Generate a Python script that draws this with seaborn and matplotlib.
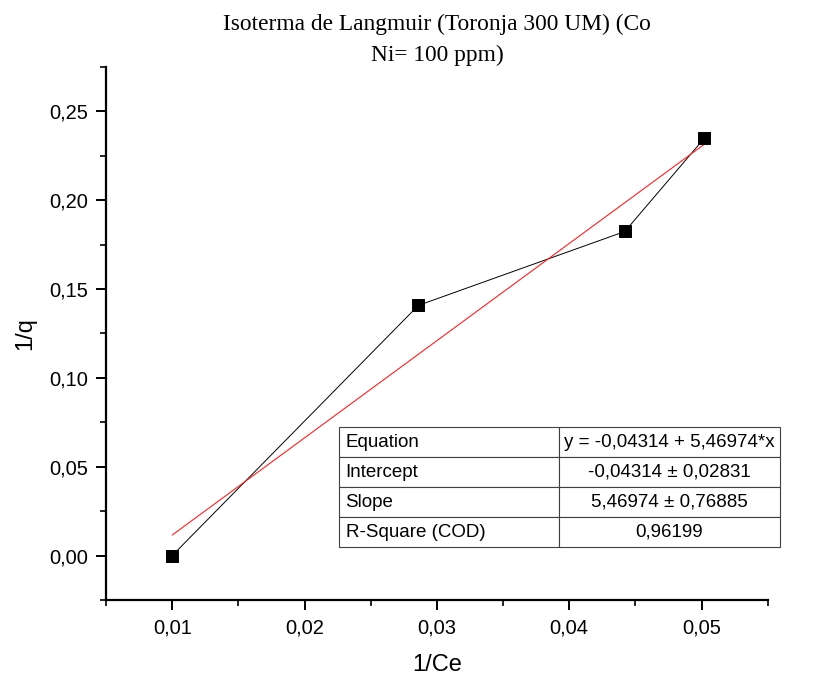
import matplotlib.pyplot as plt
import numpy as np
import pandas as pd
import seaborn as sns
from matplotlib.ticker import FuncFormatter, MultipleLocator

# dados
inv_ce = [0.0100, 0.0286, 0.0442, 0.0502]
inv_q = [0.0000, 0.1408, 0.1824, 0.2348]

# resultado do ajuste linear (tabela do Origin)
intercepto = -0.04314
inclinacao = 5.46974
tabela_rotulos = ["Equation", "Intercept", "Slope", "R-Square (COD)"]
tabela_valores = [
    "y = -0,04314 + 5,46974*x",
    "-0,04314 ± 0,02831",
    "5,46974 ± 0,76885",
    "0,96199",
]

df = pd.DataFrame({"1/Ce": inv_ce, "1/q": inv_q})
x_fit = np.array([min(inv_ce), max(inv_ce)])
df_fit = pd.DataFrame({"1/Ce": x_fit, "1/q": intercepto + inclinacao * x_fit})

sns.set_style("ticks")
plt.rcParams["font.family"] = ["Liberation Sans", "DejaVu Sans"]
plt.rcParams["text.color"] = "black"
plt.rcParams["axes.labelcolor"] = "black"

fig, ax = plt.subplots(figsize=(8.22, 6.83), dpi=100)
fig.subplots_adjust(left=0.129, right=0.934, bottom=0.1215, top=0.902)

sns.lineplot(data=df, x="1/Ce", y="1/q", color="black", linewidth=0.7, ax=ax)
sns.lineplot(data=df_fit, x="1/Ce", y="1/q", color="#ff2020", linewidth=0.8, ax=ax)
sns.scatterplot(data=df, x="1/Ce", y="1/q", marker="s", s=75, color="black",
                edgecolor="black", zorder=5, ax=ax)

ax.set_xlim(0.005, 0.055)
ax.set_ylim(-0.025, 0.275)
ax.xaxis.set_major_locator(MultipleLocator(0.01))
ax.xaxis.set_minor_locator(MultipleLocator(0.005))
ax.yaxis.set_major_locator(MultipleLocator(0.05))
ax.yaxis.set_minor_locator(MultipleLocator(0.025))
virgula = FuncFormatter(lambda v, p: f"{v:.2f}".replace(".", ","))
ax.xaxis.set_major_formatter(virgula)
ax.yaxis.set_major_formatter(virgula)

sns.despine(ax=ax)
for lado in ["left", "bottom"]:
    ax.spines[lado].set_linewidth(1.6)
    ax.spines[lado].set_color("black")
ax.tick_params(which="major", length=7, width=1.4, labelsize=14.5, pad=6,
               colors="black")
ax.tick_params(which="minor", length=4, width=1.2, colors="black")

ax.set_xlabel("1/Ce", fontsize=17, labelpad=12)
ax.set_ylabel("1/q", fontsize=17, labelpad=9)
ax.set_title("Isoterma de Langmuir (Toronja 300 UM) (Co\nNi= 100 ppm)",
             family=["Liberation Serif", "DejaVu Serif"], fontsize=16.8,
             linespacing=1.6, pad=4, color="black")

# tabela com o ajuste
tab = ax.table(cellText=[[a, b] for a, b in zip(tabela_rotulos, tabela_valores)],
               colWidths=[0.5, 0.5], cellLoc="left",
               bbox=[0.352, 0.0994, 0.666, 0.225])
tab.auto_set_font_size(False)
tab.set_fontsize(13.5)
for (lin, col), cel in tab.get_celld().items():
    cel.set_edgecolor("#404040")
    cel.set_linewidth(0.8)
    cel.PAD = 0.03
    cel.get_text().set_color("black")
    if col == 1:
        cel._loc = "center"
        cel.get_text().set_horizontalalignment("center")
tab.set_clip_on(False)

plt.savefig("out.png", dpi=100)
